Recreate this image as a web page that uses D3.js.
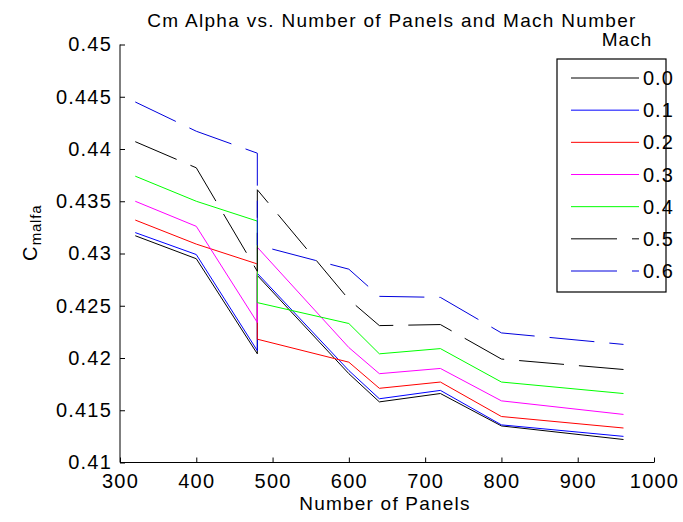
<!DOCTYPE html>
<html>
<head>
<meta charset="utf-8">
<script src="https://cdn.jsdelivr.net/npm/d3@7"></script>
<style>
  html, body { margin: 0; padding: 0; background: #fff; }
  svg text { font-family: "Liberation Sans", Arial, Helvetica, sans-serif; fill: #000; }
</style>
</head>
<body>
<svg id="chart" width="683" height="522"></svg>
<script>
// ---- data ----
const panels = [320, 400, 480, 480, 600, 640, 720, 800, 960];
const machLabels = ["0.0", "0.1", "0.2", "0.3", "0.4", "0.5", "0.6"];
const m00 = [0.4317, 0.4295, 0.4204, 0.4279, 0.4185, 0.4158, 0.4166, 0.4135, 0.4122];
const m01 = [0.4320, 0.4299, 0.4207, 0.4281, 0.4188, 0.4161, 0.4169, 0.4136, 0.4125];
const m02 = [0.4332, 0.4309, 0.4290, 0.4218, 0.4196, 0.4171, 0.4177, 0.4144, 0.4133];
const m03 = [0.4350, 0.4326, 0.4234, 0.4306, 0.4210, 0.4185, 0.4190, 0.4159, 0.4146];
const m04 = [0.4374, 0.4350, 0.4331, 0.4253, 0.4233, 0.4204, 0.4209, 0.4177, 0.4166];
const m05 = [0.4407, 0.4382, 0.4283, 0.4361, 0.4256, 0.4231, 0.4232, 0.4199, 0.4189];
const m06 = [0.4445, 0.4417, 0.4396, 0.4308, 0.4285, 0.4259, 0.4258, 0.4224, 0.4213];
const xTicks = [300, 400, 500, 600, 700, 800, 900, 1000];
const yTicks = [0.41, 0.415, 0.42, 0.425, 0.43, 0.435, 0.44, 0.445, 0.45];
const colors = ["#000000", "#0000ff", "#ff0000", "#ff00ff", "#00ff00", "#000000", "#0000dd"];
const dashed = [false, false, false, false, false, true, true];
const seriesValues = [m00, m01, m02, m03, m04, m05, m06];

// ---- layout ----
const svg = d3.select("#chart");
const L = 120, R = 654, T = 44.5, B = 462.5;
const x = d3.scaleLinear().domain([300, 1000]).range([L, R]);
const y = d3.scaleLinear().domain([0.41, 0.45]).range([B, T]);
const FS = 20, LS = "1.2px";
const FONT = '"Liberation Sans", Arial, sans-serif';

// lines
const line = d3.line().x(d => x(d[0])).y(d => y(d[1]));
seriesValues.forEach((vals, i) => {
  const pts = panels.map((p, j) => [p, vals[j]]);
  svg.append("path")
    .attr("d", line(pts))
    .attr("fill", "none")
    .attr("stroke", colors[i])
    .attr("stroke-width", 1)
    .attr("stroke-dasharray", dashed[i] ? "45,15" : null);
});

// axes
const xAxis = d3.axisBottom(x).tickValues(xTicks).tickSize(-5).tickPadding(11)
  .tickFormat(d3.format("d"));
const gx = svg.append("g").attr("transform", `translate(0,${B})`).call(xAxis);
const yAxis = d3.axisLeft(y).tickValues(yTicks).tickSize(-5).tickPadding(8)
  .tickFormat(d => d3.format("")(+d.toFixed(3)));
const gy = svg.append("g").attr("transform", `translate(${L},0)`).call(yAxis);
[gx, gy].forEach(g => {
  g.attr("font-size", FS).attr("font-family", FONT);
  g.select(".domain").attr("stroke", "#000").attr("stroke-width", 1);
  g.selectAll(".tick line").attr("stroke", "#000").attr("stroke-width", 1);
  g.selectAll(".tick text").style("font-size", FS + "px").style("letter-spacing", LS)
    .style("font-family", FONT).attr("fill", "#000");
});
gx.select(".domain").attr("d", `M${L},0H${R}`);
gy.select(".domain").attr("d", `M0,${B}V${T}`);

// title
svg.append("text").attr("x", 392).attr("y", 26.5).attr("text-anchor", "middle")
  .style("font-size", "19px").style("letter-spacing", "1.3px")
  .text("Cm Alpha vs. Number of Panels and Mach Number");

// x label
svg.append("text").attr("x", 385).attr("y", 509.5).attr("text-anchor", "middle")
  .style("font-size", "19px").style("letter-spacing", "1.2px")
  .text("Number of Panels");

// y label
const yl = svg.append("text").attr("transform", "translate(37,261) rotate(-90)")
  .style("font-size", FS + "px").style("letter-spacing", LS);
yl.append("tspan").text("C");
yl.append("tspan").attr("dy", 4).style("font-size", "15px").style("letter-spacing", "0.8px").text("malfa");

// legend
const lgX0 = 557, lgY0 = 59, lgX1 = 666, lgY1 = 292;
svg.append("rect").attr("x", lgX0).attr("y", lgY0).attr("width", lgX1 - lgX0).attr("height", lgY1 - lgY0)
  .attr("fill", "#fff").attr("stroke", "#000").attr("stroke-width", 1.2);
svg.append("text").attr("x", 627).attr("y", 46).attr("text-anchor", "middle")
  .style("font-size", "19px").style("letter-spacing", "1px").text("Mach");
const ly = d3.scaleLinear().domain([0, machLabels.length - 1]).range([78, 271]);
machLabels.forEach((lab, i) => {
  const yy = ly(i);
  svg.append("line").attr("x1", 571).attr("x2", 639).attr("y1", yy).attr("y2", yy)
    .attr("stroke", colors[i]).attr("stroke-width", 1)
    .attr("stroke-dasharray", dashed[i] ? "46,15" : null);
  svg.append("text").attr("x", 643).attr("y", yy + 7)
    .style("font-size", FS + "px").style("letter-spacing", "1px").text(lab);
});
</script>
</body>
</html>
